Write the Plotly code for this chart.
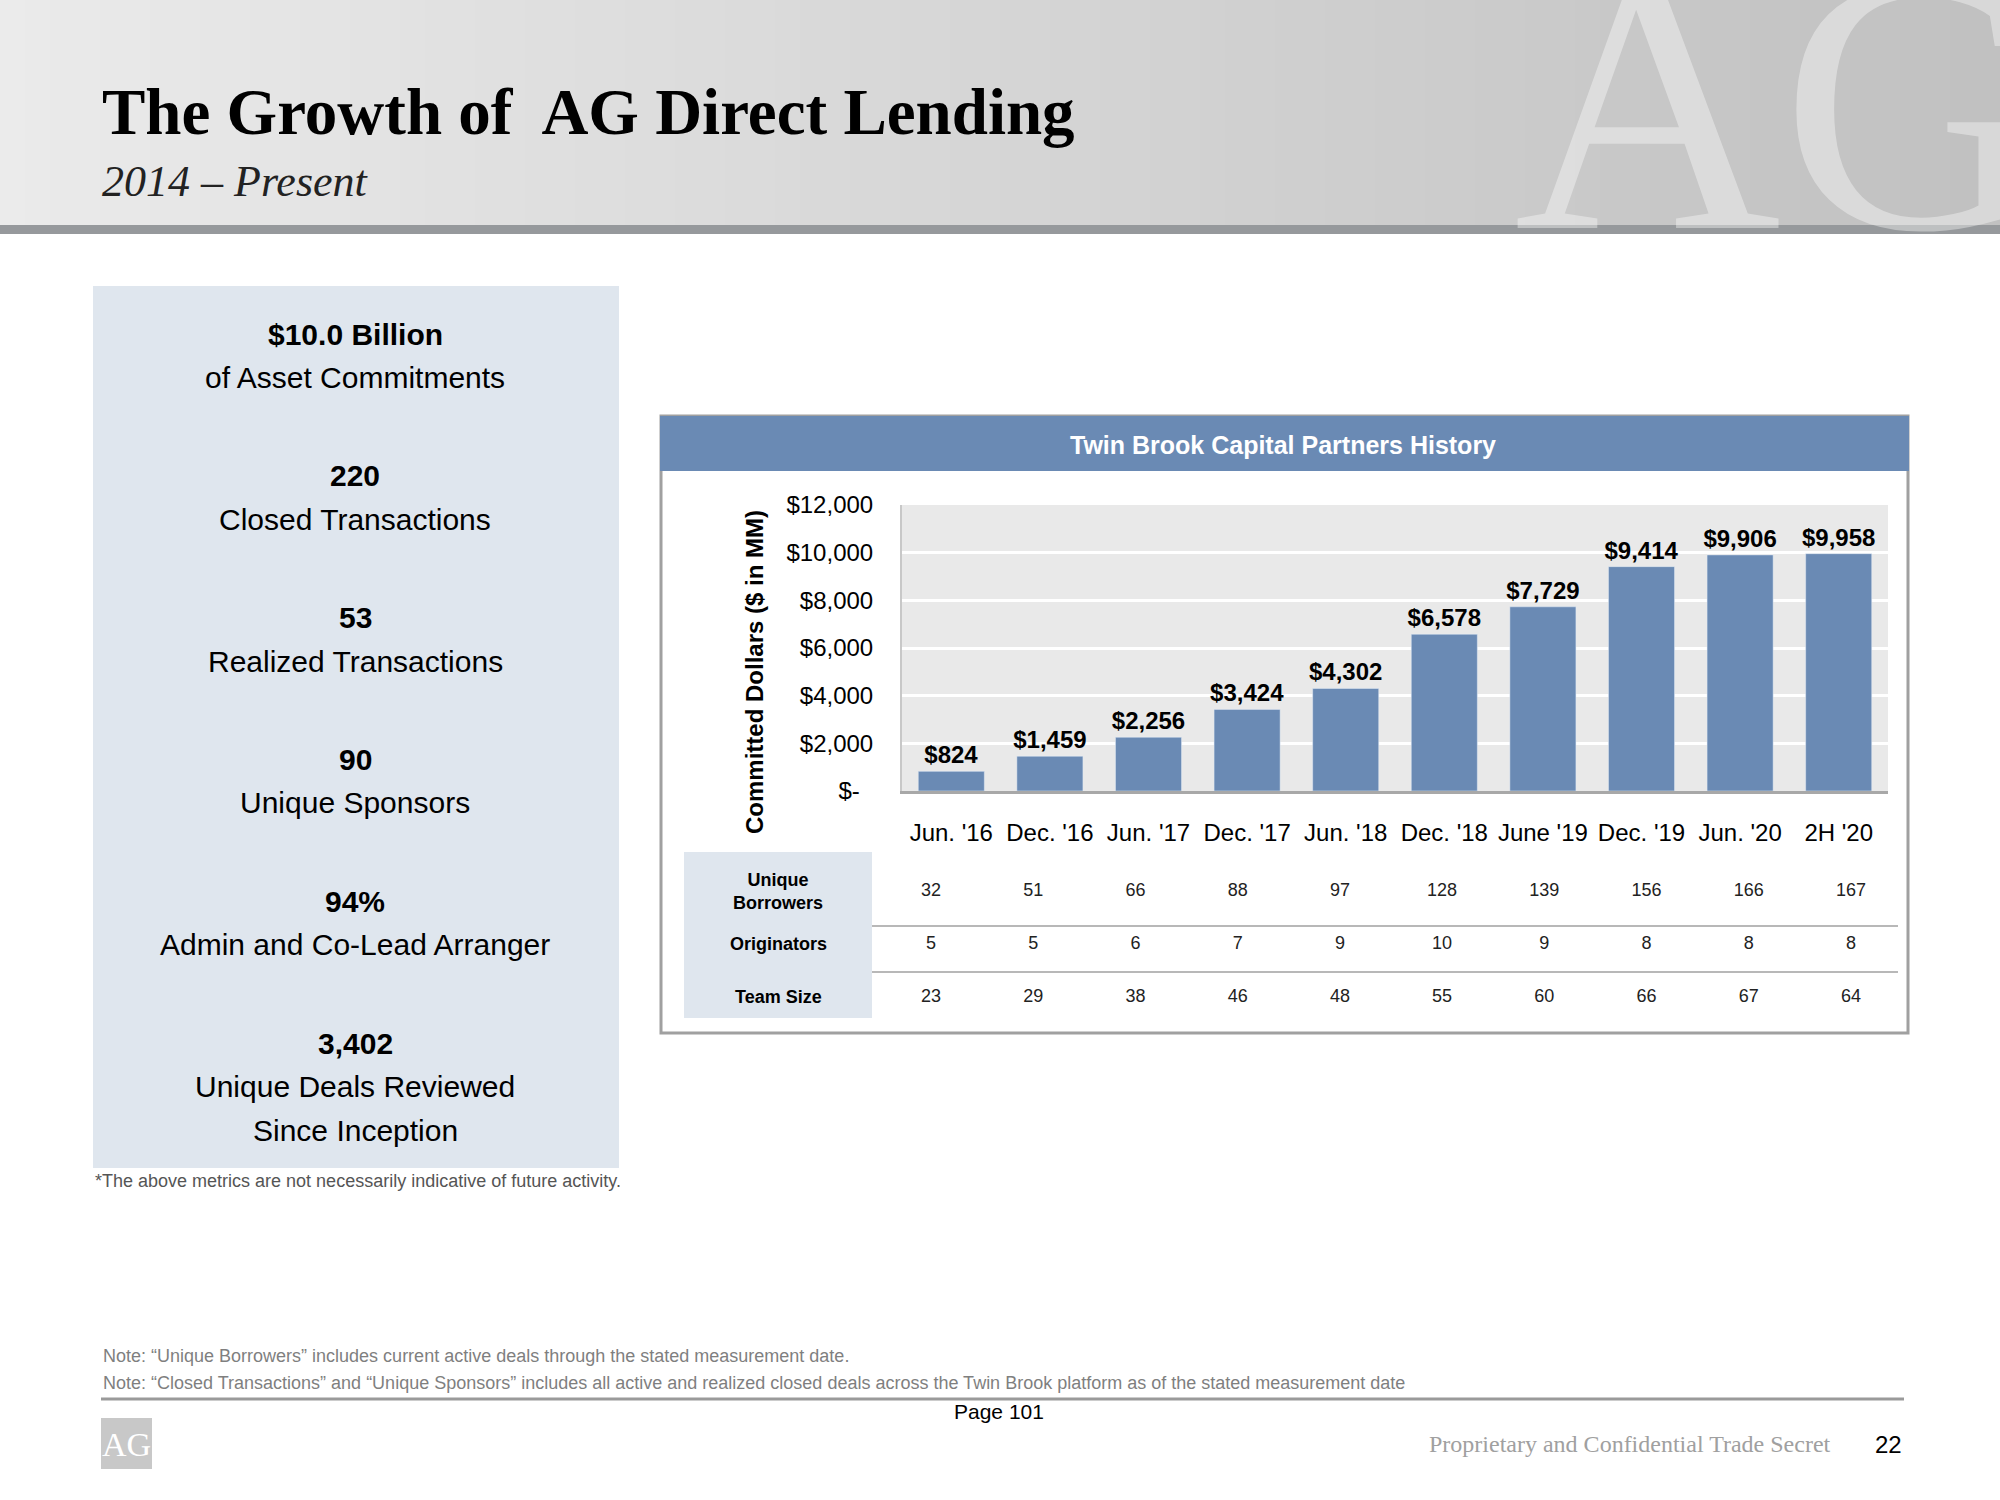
import plotly.graph_objects as go

periods = ["Jun. '16", "Dec. '16", "Jun. '17", "Dec. '17", "Jun. '18",
           "Dec. '18", "June '19", "Dec. '19", "Jun. '20", "2H '20"]
committed = [824, 1459, 2256, 3424, 4302, 6578, 7729, 9414, 9906, 9958]

table_rows = ["Unique<br>Borrowers", "Originators", "Team Size"]
unique_borrowers = [32, 51, 66, 88, 97, 128, 139, 156, 166, 167]
originators = [5, 5, 6, 7, 9, 10, 9, 8, 8, 8]
team_size = [23, 29, 38, 46, 48, 55, 60, 66, 67, 64]

y_tickvals = [0, 2000, 4000, 6000, 8000, 10000, 12000]
y_ticktext = ["$-\u00a0\u00a0", "$2,000", "$4,000", "$6,000", "$8,000", "$10,000", "$12,000"]

highlights = [
    ["$10.0 Billion", "of Asset Commitments"],
    ["220", "Closed Transactions"],
    ["53", "Realized Transactions"],
    ["90", "Unique Sponsors"],
    ["94%", "Admin and Co-Lead Arranger"],
    ["3,402", "Unique Deals Reviewed", "Since Inception"],
]

W, H = 2000, 1500
SANS = "Liberation Sans, Arial, sans-serif"
SERIF = "Liberation Serif, Times New Roman, serif"
BAR = "#6a8ab4"
PANEL = "#dfe6ee"


def px(x):
    return x / W


def py(y):
    return 1 - y / H


fig = go.Figure()

fig.add_trace(go.Bar(
    x=periods, y=committed,
    marker_color=BAR, width=0.67,
    texttemplate="$%{y:,.0f}", textposition="outside", cliponaxis=False,
    constraintext="none",
    textfont=dict(family=SANS, size=24, color="black", weight="bold"),
    hoverinfo="x+y",
))

for name, vals in zip(table_rows, [unique_borrowers, originators, team_size]):
    fig.add_trace(go.Scatter(
        x=periods, y=[name] * len(vals), text=[str(v) for v in vals],
        mode="text", textfont=dict(family=SANS, size=18, color="#222"),
        xaxis="x2", yaxis="y2", hoverinfo="skip",
    ))

shapes = []
# header gradient
n = 80
for i in range(n):
    t = i / (n - 1)
    c = int(235 - 42 * t)
    shapes.append(dict(type="rect", xref="paper", yref="paper",
                       x0=px(i * W / n), x1=px((i + 1) * W / n + 1), y0=py(226), y1=py(-40),
                       fillcolor=f"rgb({c},{c},{c})", line_width=0, layer="below"))
shapes.append(dict(type="rect", xref="paper", yref="paper", x0=0, x1=1,
                   y0=py(234), y1=py(225), fillcolor="#96999c", line_width=0))

# plot area background (only for the bar chart, not the table subplot)
shapes.append(dict(type="rect", xref="x domain", yref="y domain", x0=0, x1=1, y0=0, y1=1,
                   fillcolor="#e9e9e9", line_width=0, layer="below"))

# left highlight panel
shapes.append(dict(type="rect", xref="paper", yref="paper", x0=px(93), x1=px(619),
                   y0=py(1168), y1=py(286), fillcolor=PANEL, line_width=0, layer="below"))

# chart frame
shapes.append(dict(type="rect", xref="paper", yref="paper", x0=px(661), x1=px(1908),
                   y0=py(1033), y1=py(416), line=dict(color="#a0a0a0", width=3)))
shapes.append(dict(type="rect", xref="paper", yref="paper", x0=px(660), x1=px(1909),
                   y0=py(471), y1=py(416), fillcolor=BAR, line_width=0))

# table label column and separators
shapes.append(dict(type="rect", xref="paper", yref="paper", x0=px(684), x1=px(872),
                   y0=py(1018), y1=py(852), fillcolor=PANEL, line_width=0, layer="below"))
for yy in [926, 972]:
    shapes.append(dict(type="line", xref="paper", yref="paper", x0=px(872), x1=px(1898),
                       y0=py(yy), y1=py(yy), line=dict(color="#b8b8b8", width=2)))

# footer rule and logo
shapes.append(dict(type="line", xref="paper", yref="paper", x0=px(101), x1=px(1904),
                   y0=py(1399), y1=py(1399), line=dict(color="#9a9a9a", width=3)))
shapes.append(dict(type="rect", xref="paper", yref="paper", x0=px(101), x1=px(152),
                   y0=py(1469), y1=py(1418), fillcolor="#c8c8c8", line_width=0))

ann = []
# watermark
ann.append(dict(text="AG", x=px(1512), y=py(310), xanchor="left", yanchor="bottom",
                font=dict(family=SERIF, size=370, color="rgba(255,255,255,0.38)")))
ann.append(dict(text="<b>The Growth of  AG Direct Lending</b>", x=px(100), y=py(112),
                xanchor="left", yanchor="middle",
                font=dict(family=SERIF, size=65, color="black")))
ann.append(dict(text="<i>2014 – Present</i>", x=px(100), y=py(182), xanchor="left",
                yanchor="middle", font=dict(family=SERIF, size=44, color="#222")))

for i, item in enumerate(highlights):
    y0 = 334 + 141.8 * i
    for j, line in enumerate(item):
        txt = f"<b>{line}</b>" if j == 0 else line
        ann.append(dict(text=txt, x=px(355), y=py(y0 + 43.5 * j), xanchor="center",
                        yanchor="middle", font=dict(family=SANS, size=30, color="black")))

ann.append(dict(text="*The above metrics are not necessarily indicative of future activity.",
                x=px(93), y=py(1181), xanchor="left", yanchor="middle",
                font=dict(family=SANS, size=18, color="#555")))

ann.append(dict(text="<b>Twin Brook Capital Partners History</b>", x=px(1283), y=py(445),
                xanchor="center", yanchor="middle",
                font=dict(family=SANS, size=25, color="white")))
ann.append(dict(text="<b>Committed Dollars ($ in MM)</b>", x=px(755), y=py(672),
                textangle=-90, xanchor="center", yanchor="middle",
                font=dict(family=SANS, size=24, color="black")))

for name in table_rows:
    ann.append(dict(text=f"<b>{name}</b>", x=px(778), xref="paper", y=name, yref="y2",
                    xanchor="center", yanchor="middle",
                    font=dict(family=SANS, size=18, color="black")))

ann.append(dict(text="Note: “Unique Borrowers” includes current active deals through the stated measurement date.",
                x=px(101), y=py(1356), xanchor="left", yanchor="middle",
                font=dict(family=SANS, size=18, color="#7f7f7f")))
ann.append(dict(text="Note: “Closed Transactions” and “Unique Sponsors” includes all active and realized closed deals across the Twin Brook platform as of the stated measurement date",
                x=px(101), y=py(1383), xanchor="left", yanchor="middle",
                font=dict(family=SANS, size=18, color="#7f7f7f")))
ann.append(dict(text="Page 101", x=px(999), y=py(1411), xanchor="center", yanchor="middle",
                font=dict(family=SANS, size=21, color="black")))
ann.append(dict(text="AG", x=px(126.5), y=py(1444), xanchor="center", yanchor="middle",
                font=dict(family=SERIF, size=34, color="white")))
ann.append(dict(text="Proprietary and Confidential Trade Secret", x=px(1833), y=py(1444),
                xanchor="right", yanchor="middle",
                font=dict(family=SERIF, size=24, color="#a0a0a0")))
ann.append(dict(text="22", x=px(1888), y=py(1444), xanchor="center", yanchor="middle",
                font=dict(family=SANS, size=24, color="black")))

for a in ann:
    a.setdefault("xref", "paper")
    a.setdefault("yref", "paper")
    a["showarrow"] = False

fig.update_layout(
    width=W, height=H,
    margin=dict(l=0, r=0, t=0, b=0, autoexpand=False),
    paper_bgcolor="white", plot_bgcolor="white",
    showlegend=False,
    shapes=shapes, annotations=ann,
    xaxis=dict(domain=[px(902), px(1888)], type="category", categoryarray=periods,
               showline=True, linecolor="#a8a8a8", linewidth=3, showgrid=False,
               ticks="", ticklabelstandoff=18, tickangle=0, automargin=False,
               tickfont=dict(family=SANS, size=24, color="black")),
    yaxis=dict(domain=[py(791), py(505)], range=[0, 12000],
               tickvals=y_tickvals, ticktext=y_ticktext,
               showline=True, linecolor="#c8c8c8", linewidth=2,
               gridcolor="white", gridwidth=3, zeroline=False,
               ticks="", ticklabelstandoff=22, automargin=False,
               tickfont=dict(family=SANS, size=24, color="black")),
    xaxis2=dict(domain=[px(880), px(1902)], type="category", categoryarray=periods,
                anchor="y2", visible=False, automargin=False),
    yaxis2=dict(domain=[py(1023.5), py(864.5)], type="category", categoryarray=table_rows,
                range=[2.5, -0.5], anchor="x2", visible=False, automargin=False),
)

fig.write_html(
    "out.html",
    config={"displayModeBar": False},
    post_script="var d=document.getElementById('{plot_id}');"
                "d.style.position='absolute';d.style.left='0px';d.style.top='0px';"
                "document.body.style.margin='0';",
)
